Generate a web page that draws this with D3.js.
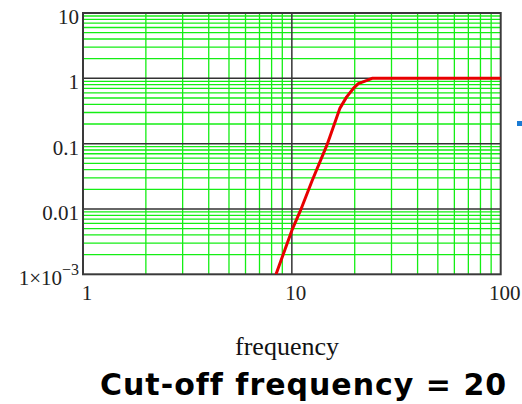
<!DOCTYPE html>
<html lang="en">
	<head>
		<meta charset="utf-8">
		<title>Cut-off frequency</title>
		<script src="https://d3js.org/d3.v7.min.js"></script>
		<style>
			body{ margin: 0; background: #fff; }
			svg{ display: block; }
		</style>
	</head>
	<body>
		<script>
			//Width and height
			var w = 522;
			var h = 404;

			//data
			var freq = [8.4, 10, 11, 12.5, 14.7, 15.2, 17, 18.3, 19.7, 20.8, 22.9, 24.2, 30, 50, 100];
			var response = [0.001, 0.0047, 0.0095, 0.027, 0.094, 0.126, 0.35, 0.52, 0.70, 0.83, 0.93, 1.0, 1.0, 1.0, 1.0];

			var xTicks = [1, 10, 100];
			var xTickLabels = ["1", "10", "100"];
			var yTicks = [10, 1, 0.1, 0.01, 0.001];
			var yTickLabels = ["10", "1", "0.1", "0.01", "1×10"];

			var xScale = d3.scaleLog().domain([1, 100]).range([83, 500.7]);
			var yScale = d3.scaleLog().domain([0.001, 10]).range([274.3, 13]);

			var svg = d3.select("body")
						.append("svg")
						.attr("width", w)
						.attr("height", h);

			//minor grid (green)
			var minorX = [], minorY = [];
			[1, 10].forEach(function(d) {
				for (var k = 2; k <= 9; k++) minorX.push(d * k);
			});
			[0.001, 0.01, 0.1, 1].forEach(function(d) {
				for (var k = 2; k <= 9; k++) minorY.push(d * k);
			});

			svg.append("defs").append("clipPath")
				.attr("id", "plot")
				.append("rect")
				.attr("x", xScale(1))
				.attr("y", yScale(10))
				.attr("width", xScale(100) - xScale(1))
				.attr("height", yScale(0.001) - yScale(10));

			svg.selectAll("line.gx")
				.data(minorX)
				.enter()
				.append("line")
				.attr("class", "gx")
				.attr("x1", function(d) { return xScale(d); })
				.attr("x2", function(d) { return xScale(d); })
				.attr("y1", yScale(10))
				.attr("y2", yScale(0.001))
				.attr("stroke", "#14ee14")
				.attr("stroke-width", 1.3);

			svg.selectAll("line.gy")
				.data(minorY)
				.enter()
				.append("line")
				.attr("class", "gy")
				.attr("x1", xScale(1))
				.attr("x2", xScale(100))
				.attr("y1", function(d) { return yScale(d); })
				.attr("y2", function(d) { return yScale(d); })
				.attr("stroke", "#14ee14")
				.attr("stroke-width", 1.3);

			//decade lines
			svg.append("line")
				.attr("x1", xScale(10)).attr("x2", xScale(10))
				.attr("y1", yScale(10)).attr("y2", yScale(0.001))
				.attr("stroke", "#333").attr("stroke-width", 1.5);

			svg.selectAll("line.my")
				.data([1, 0.1, 0.01])
				.enter()
				.append("line")
				.attr("class", "my")
				.attr("x1", xScale(1))
				.attr("x2", xScale(100))
				.attr("y1", function(d) { return yScale(d); })
				.attr("y2", function(d) { return yScale(d); })
				.attr("stroke", "#333")
				.attr("stroke-width", 1.5);

			//frame
			svg.append("rect")
				.attr("x", xScale(1))
				.attr("y", yScale(10))
				.attr("width", xScale(100) - xScale(1))
				.attr("height", yScale(0.001) - yScale(10))
				.attr("fill", "none")
				.attr("stroke", "#3a3a3a")
				.attr("stroke-width", 2);

			//response curve
			var line = d3.line()
				.x(function(d, i) { return xScale(freq[i]); })
				.y(function(d) { return yScale(d); });

			svg.append("path")
				.datum(response)
				.attr("clip-path", "url(#plot)")
				.attr("d", line)
				.attr("fill", "none")
				.attr("stroke", "#e80000")
				.attr("stroke-width", 3)
				.attr("stroke-linejoin", "round");

			//y tick labels
			var yl = svg.selectAll("text.yl")
				.data(yTicks)
				.enter()
				.append("text")
				.attr("class", "yl")
				.attr("x", 79)
				.attr("y", function(d) { return yScale(d) + 11; })
				.attr("text-anchor", "end")
				.attr("font-family", "'Liberation Serif', serif")
				.attr("font-size", "21px")
				.attr("fill", "#222");
			yl.append("tspan")
				.text(function(d, i) { return yTickLabels[i]; });
			yl.filter(function(d) { return d === 0.001; })
				.append("tspan")
				.attr("dy", -10)
				.attr("font-size", "16px")
				.text("\u22123");

			//x tick labels
			svg.selectAll("text.xl")
				.data(xTicks)
				.enter()
				.append("text")
				.attr("class", "xl")
				.attr("x", function(d) { return xScale(d) + 4; })
				.attr("y", 300)
				.attr("text-anchor", "middle")
				.attr("font-family", "'Liberation Serif', serif")
				.attr("font-size", "21px")
				.attr("fill", "#222")
				.text(function(d, i) { return xTickLabels[i]; });

			//axis title
			svg.append("text")
				.attr("x", 287)
				.attr("y", 355)
				.attr("text-anchor", "middle")
				.attr("font-family", "'Liberation Serif', serif")
				.attr("font-size", "26px")
				.attr("fill", "#111")
				.text("frequency");

			//caption
			svg.append("text")
				.attr("x", 100)
				.attr("y", 395)
				.attr("font-family", "'DejaVu Sans', sans-serif")
				.attr("font-weight", "bold")
				.attr("font-size", "30px")
				.attr("letter-spacing", "1px")
				.attr("fill", "#000")
				.text("Cut-off frequency = 20");

			//small blue mark at the right edge
			svg.append("rect")
				.attr("x", 517)
				.attr("y", 121)
				.attr("width", 6)
				.attr("height", 5)
				.attr("fill", "#1a7bd4");
		</script>
	</body>
</html>
